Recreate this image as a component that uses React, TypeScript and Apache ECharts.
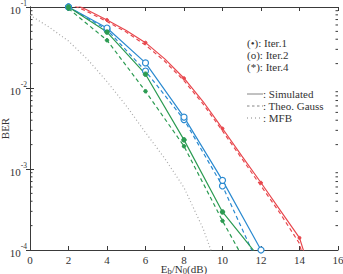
import React, { useEffect, useRef } from "react";
import * as echarts from "echarts";

// Eb/N0 grid (dB) used by each curve
const SNR_FULL = [2, 3, 4, 5, 6, 7, 8, 9, 10, 11, 12, 13, 14, 15];
const SNR_EVEN = [2, 4, 6, 8, 10, 12];
const SNR_MFB = [0, 1, 2, 3, 4, 5, 6, 7, 8, 9, 10];

// Iteration 1
const ITER1_SIM = [0.1175, 0.0912, 0.0692, 0.0513, 0.0363, 0.0229, 0.0132, 0.00676, 0.00316, 0.00145, 6.76e-4, 3.09e-4, 1.41e-4, 2.5e-5];
const ITER1_GAUSS = [0.112, 0.0871, 0.0661, 0.049, 0.0339, 0.0214, 0.0123, 0.00631, 0.00295, 0.00135, 6.17e-4, 2.82e-4, 1.2e-4, 1.26e-5];
// Iteration 2
const ITER2_SIM = [0.1, 0.055, 0.0204, 0.00437, 7.24e-4, 1.0e-4];
const ITER2_GAUSS = [0.1, 0.0525, 0.0162, 0.00407, 6.17e-4, 5.6e-5];
// Iteration 4
const ITER4_SIM = [0.1, 0.049, 0.0148, 0.00229, 2.95e-4, 7.6e-5];
const ITER4_GAUSS = [0.0955, 0.0389, 0.00912, 0.00191, 2.29e-4, 3.2e-5];
// Matched filter bound
const MFB = [0.0794, 0.0562, 0.038, 0.0224, 0.012, 0.00603, 0.00282, 0.00135, 5.89e-4, 1.82e-4, 3.98e-5];

const X_MIN = 0;
const X_MAX = 16;
const X_STEP = 2;
const Y_MIN = 1e-4;
const Y_MAX = 1e-1;

const RED = "#e8474d";
const BLUE = "#2b8ad0";
const GREEN = "#2c9b52";
const GRAY = "#a8a8a8";
const AXIS = "#3a3a3a";
const FONT = '"Liberation Serif", "Times New Roman", serif';

// log-scale minor tick positions (2..9 per decade)
const MINOR_TICKS: number[] = [];
for (let e = -4; e < -1; e++) {
  for (let m = 2; m <= 9; m++) MINOR_TICKS.push(m * Math.pow(10, e));
}

function pairs(xs: number[], ys: number[], markEven: boolean) {
  return xs.map((x, i) =>
    markEven && x % 2 !== 0 ? { value: [x, ys[i]], symbol: "none" } : { value: [x, ys[i]] }
  );
}

export default function App() {
  const ref = useRef<HTMLDivElement>(null);

  useEffect(() => {
    if (!ref.current) return;
    const chart = echarts.init(ref.current, null, { renderer: "svg" });

    const lineSeries = (
      data: any[],
      color: string,
      type: any,
      symbol: string,
      symbolSize: number,
      filled: boolean
    ) => ({
      type: "line",
      data,
      showSymbol: symbol !== "none",
      symbol,
      symbolSize,
      clip: true,
      lineStyle: { color, width: 1.2, type },
      itemStyle: filled
        ? { color, borderColor: color }
        : { color: "#fff", borderColor: color, borderWidth: 1.2 },
      z: 3,
    });

    const tickLabel = {
      fontFamily: FONT,
      fontSize: 11,
      color: "#333",
    };

    chart.setOption({
      animation: false,
      backgroundColor: "#fff",
      grid: { left: 30, right: 5, top: 7, bottom: 24, outerBoundsMode: "none", containLabel: false },
      xAxis: [
        {
          type: "value",
          min: X_MIN,
          max: X_MAX,
          interval: X_STEP,
          position: "bottom",
          axisLine: { show: true, lineStyle: { color: AXIS, width: 1 } },
          axisTick: { show: true, inside: true, length: 4, lineStyle: { color: AXIS } },
          splitLine: { show: false },
          axisLabel: { ...tickLabel, margin: 4 },
          name: "{n|E}{sub|b}{n|/N}{sub|0}{n|(dB)}",
          nameLocation: "middle",
          nameGap: 13,
          nameMoveOverlap: false,
          nameTextStyle: {
            fontFamily: FONT,
            color: "#333",
            rich: {
              n: { fontFamily: FONT, fontSize: 11, lineHeight: 12, verticalAlign: "top", color: "#333" },
              sub: { fontFamily: FONT, fontSize: 8.5, lineHeight: 9, padding: [5, 0, 0, 0], verticalAlign: "bottom", color: "#333" },
            },
          },
        },
        {
          type: "value",
          min: X_MIN,
          max: X_MAX,
          interval: X_STEP,
          position: "top",
          axisLine: { show: true, lineStyle: { color: AXIS, width: 1 } },
          axisTick: { show: true, inside: true, length: 4, lineStyle: { color: AXIS } },
          splitLine: { show: false },
          axisLabel: { show: false },
        },
      ],
      yAxis: [
        {
          type: "log",
          logBase: 10,
          min: Y_MIN,
          max: Y_MAX,
          position: "left",
          axisLine: { show: true, lineStyle: { color: AXIS, width: 1 } },
          axisTick: { show: true, inside: true, length: 4, lineStyle: { color: AXIS } },
          splitLine: { show: false },
          axisLabel: {
            margin: 3,
            formatter: (v: number) => `{b|10}{s|${Math.round(Math.log10(v))}}`,
            rich: {
              b: { fontFamily: FONT, fontSize: 11, lineHeight: 16, verticalAlign: "bottom", color: "#333" },
              s: { fontFamily: FONT, fontSize: 7.5, lineHeight: 8, verticalAlign: "top", color: "#333" },
            },
          },
          name: "BER",
          nameLocation: "middle",
          nameGap: 20,
          nameMoveOverlap: false,
          nameTextStyle: { fontFamily: FONT, fontSize: 11, color: "#333" },
        },
        {
          type: "log",
          logBase: 10,
          min: Y_MIN,
          max: Y_MAX,
          position: "right",
          axisLine: { show: true, lineStyle: { color: AXIS, width: 1 } },
          axisTick: { show: true, inside: true, length: 4, lineStyle: { color: AXIS } },
          splitLine: { show: false },
          axisLabel: { show: false },
        },
      ],
      series: [
        {
          type: "custom",
          silent: true,
          clip: false,
          data: MINOR_TICKS.map((v) => [X_MIN, v]),
          renderItem: (_p: any, api: any) => {
            const v = api.value(1);
            const l = api.coord([X_MIN, v]);
            const r = api.coord([X_MAX, v]);
            return {
              type: "group",
              children: [
                { type: "line", shape: { x1: l[0], y1: l[1], x2: l[0] + 2.5, y2: l[1] }, style: { stroke: AXIS, lineWidth: 1 } },
                { type: "line", shape: { x1: r[0] - 2.5, y1: r[1], x2: r[0], y2: r[1] }, style: { stroke: AXIS, lineWidth: 1 } },
              ],
            };
          },
          z: 1,
        },
        lineSeries(pairs(SNR_MFB, MFB, false), GRAY, [1, 2.5], "none", 0, true),
        lineSeries(pairs(SNR_FULL, ITER1_GAUSS, false), RED, [4, 3], "none", 0, true),
        lineSeries(pairs(SNR_FULL, ITER1_SIM, true), RED, "solid", "circle", 3, true),
        lineSeries(pairs(SNR_EVEN, ITER2_GAUSS, false), BLUE, [4, 3], "circle", 6, false),
        lineSeries(pairs(SNR_EVEN, ITER2_SIM, false), BLUE, "solid", "circle", 6, false),
        lineSeries(pairs(SNR_EVEN, ITER4_GAUSS, false), GREEN, [4, 3], "circle", 3.5, true),
        lineSeries(pairs(SNR_EVEN, ITER4_SIM, false), GREEN, "solid", "circle", 4.5, true),
      ],
      graphic: [
        { type: "text", x: 247, y: 43, style: { text: "(\u2022): Iter.1", font: `11px ${FONT}`, fill: "#333", verticalAlign: "middle" } },
        { type: "text", x: 247, y: 55, style: { text: "(o): Iter.2", font: `11px ${FONT}`, fill: "#333", verticalAlign: "middle" } },
        { type: "text", x: 247, y: 67, style: { text: "(*): Iter.4", font: `11px ${FONT}`, fill: "#333", verticalAlign: "middle" } },
        { type: "line", shape: { x1: 247, y1: 94, x2: 263, y2: 94 }, style: { stroke: "#666", lineWidth: 0.8 } },
        { type: "text", x: 263, y: 94, style: { text: ": Simulated", font: `11px ${FONT}`, fill: "#333", verticalAlign: "middle" } },
        { type: "line", shape: { x1: 247, y1: 106, x2: 263, y2: 106 }, style: { stroke: "#666", lineWidth: 0.8, lineDash: [2.5, 2.5] } },
        { type: "text", x: 263, y: 106, style: { text: ": Theo. Gauss", font: `11px ${FONT}`, fill: "#333", verticalAlign: "middle" } },
        { type: "line", shape: { x1: 247, y1: 118, x2: 263, y2: 118 }, style: { stroke: "#666", lineWidth: 0.8, lineDash: [1, 3] } },
        { type: "text", x: 263, y: 118, style: { text: ": MFB", font: `11px ${FONT}`, fill: "#333", verticalAlign: "middle" } },
      ],
    });

    return () => chart.dispose();
  }, []);

  return (
    <div
      ref={ref}
      style={{ position: "fixed", left: 0, top: 0, width: 343, height: 274, background: "#fff" }}
    />
  );
}
